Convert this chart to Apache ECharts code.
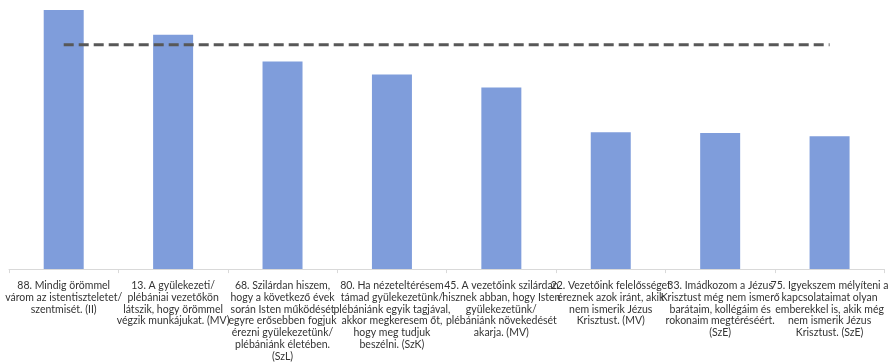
<!DOCTYPE html>
<html>
<head>
<meta charset="utf-8">
<script src="https://cdn.jsdelivr.net/npm/echarts@6/dist/echarts.min.js"></script>
<style>html,body{margin:0;padding:0;background:#fff}#c{width:891px;height:362px}</style>
</head>
<body>
<div id="c"></div>
<script>
const categories = [
  "88. Mindig örömmel\nvárom az istentiszteletet/\nszentmisét. (II)",
  "13. A gyülekezeti/\nplébániai vezetőkön\nlátszik, hogy örömmel\nvégzik munkájukat. (MV)",
  "68. Szilárdan hiszem,\nhogy a következő évek\nsorán Isten működését\negyre erősebben fogjuk\nérezni gyülekezetünk/\nplébániánk életében.\n(SzL)",
  "80. Ha nézeteltérésem\ntámad gyülekezetünk/\nplébániánk egyik tagjával,\nakkor megkeresem őt,\nhogy meg tudjuk\nbeszélni. (SzK)",
  "45. A vezetőink szilárdan\nhisznek abban, hogy Isten\ngyülekezetünk/\nplébániánk növekedését\nakarja. (MV)",
  "22. Vezetőink felelősséget\néreznek azok iránt, akik\nnem ismerik Jézus\nKrisztust. (MV)",
  "33. Imádkozom a Jézus\nKrisztust még nem ismerő\nbarátaim, kollégáim és\nrokonaim megtéréséért.\n(SzE)",
  "75. Igyekszem mélyíteni a\nkapcsolataimat olyan\nemberekkel is, akik még\nnem ismerik Jézus\nKrisztust. (SzE)"
];
const barValues = [96.3, 87.1, 77.1, 72.3, 67.5, 50.9, 50.6, 49.4];
const averageValues = [83.4, 83.4, 83.4, 83.4, 83.4, 83.4, 83.4, 83.4];

const chart = echarts.init(document.getElementById('c'), null, {renderer: 'canvas'});
chart.setOption({
  animation: false,
  backgroundColor: '#ffffff',
  grid: {left: 9, right: -2, top: 0, bottom: 91, containLabel: false},
  xAxis: {
    type: 'category',
    data: categories,
    axisLine: {lineStyle: {color: '#d9d9d9', width: 1}},
    axisTick: {show: true, length: 4, lineStyle: {color: '#d9d9d9'}},
    axisLabel: {
      interval: 0,
      margin: 11,
      color: '#333333',
      fontFamily: 'Lato',
      fontSize: 10.5,
      lineHeight: 11.7,
      overflow: 'none'
    }
  },
  yAxis: {
    type: 'value', min: 0, max: 100, show: false,
    splitLine: {show: false}
  },
  series: [
    {
      type: 'bar',
      data: barValues,
      barWidth: 40,
      itemStyle: {color: '#7f9ddb'}
    },
    {
      type: 'line',
      data: averageValues,
      symbol: 'none',
      lineStyle: {color: '#585858', width: 3, type: [10, 5]},
      z: 3
    }
  ]
});
</script>
</body>
</html>
